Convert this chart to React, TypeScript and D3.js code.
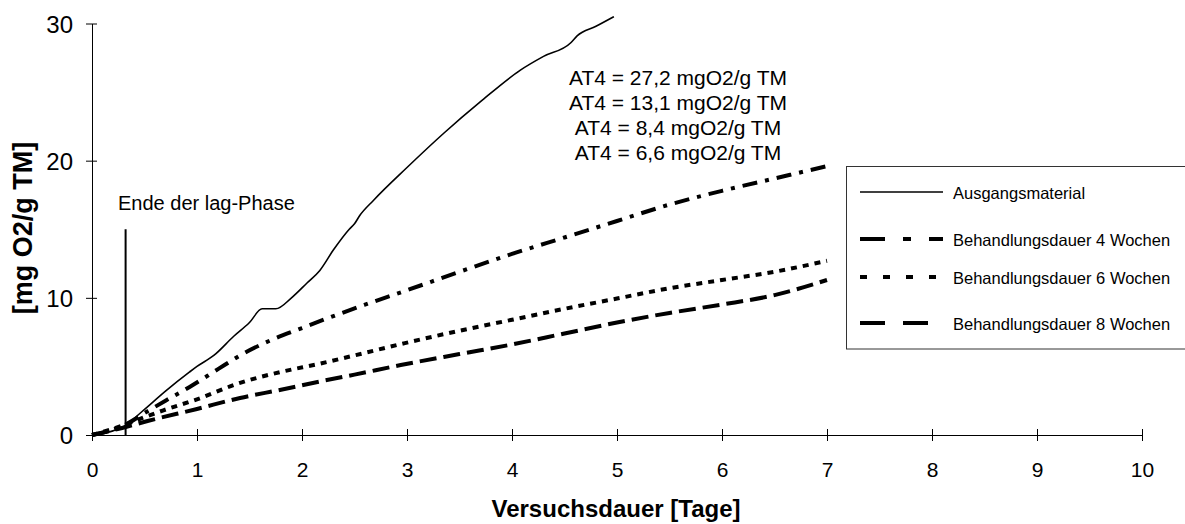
import React, { useEffect, useRef } from 'react';
import * as d3 from 'd3';

// Versuchsdauer [Tage] / Sauerstoffverbrauch [mg O2/g TM]
const ausgangX = [0, 0.1, 0.2, 0.3, 0.33, 0.4, 0.52, 0.7, 0.93, 1.0, 1.16, 1.35, 1.5, 1.62, 1.75, 1.9, 2.05, 2.17, 2.3, 2.45, 2.5, 2.55, 2.68, 3.0, 3.35, 3.7, 4.08, 4.3, 4.56, 4.62, 4.8, 4.97];
const ausgangY = [0, 0.1, 0.3, 0.6, 0.75, 1.2, 2.0, 3.2, 4.6, 5.0, 5.8, 7.2, 8.2, 9.2, 9.2, 10.0, 11.1, 12.0, 13.5, 15.0, 15.4, 16.0, 17.1, 19.5, 22.0, 24.3, 26.6, 27.6, 28.6, 29.1, 29.8, 30.5];

const w4X = [0, 0.33, 0.5, 0.7, 0.93, 1.2, 1.41, 1.7, 2.0, 2.24, 2.6, 2.98, 3.5, 4.0, 4.5, 5.0, 5.5, 6.0, 6.5, 7.0];
const w4Y = [0, 0.8, 1.6, 2.5, 3.5, 4.8, 5.8, 6.9, 7.8, 8.5, 9.5, 10.5, 11.9, 13.2, 14.4, 15.6, 16.8, 17.8, 18.7, 19.6];

const w6X = [0, 0.33, 0.5, 0.68, 1.0, 1.41, 1.8, 2.17, 2.5, 2.98, 3.5, 4.0, 4.5, 5.0, 5.5, 6.0, 6.5, 7.0];
const w6Y = [0, 0.8, 1.3, 1.8, 2.6, 3.8, 4.6, 5.2, 5.8, 6.7, 7.6, 8.4, 9.2, 9.95, 10.7, 11.3, 11.9, 12.7];

const w8X = [0, 0.33, 0.52, 1.0, 1.41, 1.8, 2.17, 2.5, 2.94, 3.5, 4.0, 4.5, 5.0, 5.5, 5.99, 6.5, 7.0];
const w8Y = [0, 0.6, 1.0, 1.9, 2.7, 3.3, 3.9, 4.4, 5.1, 5.9, 6.6, 7.4, 8.2, 8.9, 9.5, 10.2, 11.3];

const seriesNames = ['Ausgangsmaterial', 'Behandlungsdauer 4 Wochen', 'Behandlungsdauer 6 Wochen', 'Behandlungsdauer 8 Wochen'];
const at4Labels = ['AT4 = 27,2 mgO2/g TM', 'AT4 = 13,1 mgO2/g TM', 'AT4 = 8,4 mgO2/g TM', 'AT4 = 6,6 mgO2/g TM'];
const xTicks = [0, 1, 2, 3, 4, 5, 6, 7, 8, 9, 10];
const yTicks = [0, 10, 20, 30];
const lagX = 0.32;
const lagTop = 15;

const FONT = '"Liberation Sans", Arial, sans-serif';

export default function App() {
  const ref = useRef<SVGSVGElement>(null);

  useEffect(() => {
    const svg = d3.select(ref.current);
    svg.selectAll('*').remove();

    const x = d3.scaleLinear().domain([0, 10]).range([92, 1142]);
    const y = d3.scaleLinear().domain([0, 30]).range([435, 23.5]);

    // axes
    const gy = svg.append('g').attr('transform', `translate(${x(0)},0)`)
      .call(d3.axisLeft(y).tickValues(yTicks).tickSize(6).tickSizeOuter(0).tickFormat(d3.format('d')));
    gy.select('.domain').attr('stroke', '#000');
    gy.selectAll('.tick line').attr('x1', 5).attr('stroke', '#000');
    gy.selectAll('.tick text').attr('x', -19).attr('dy', '0.36em')
      .style('font-family', FONT).style('font-size', '24px').attr('fill', '#000');

    const gx = svg.append('g').attr('transform', `translate(0,${y(0)})`)
      .call(d3.axisBottom(x).tickValues(xTicks).tickSize(6).tickSizeOuter(0).tickFormat(d3.format('d')));
    gx.select('.domain').attr('stroke', '#000');
    gx.selectAll('.tick line').attr('y1', -6).attr('stroke', '#000');
    gx.selectAll('.tick text').attr('y', 42).attr('dy', 0)
      .style('font-family', FONT).style('font-size', '21px').attr('fill', '#000');

    // lag-phase marker
    svg.append('line')
      .attr('x1', x(lagX)).attr('x2', x(lagX))
      .attr('y1', y(0)).attr('y2', y(lagTop))
      .attr('stroke', '#000').attr('stroke-width', 2);
    svg.append('text').attr('x', 118).attr('y', 210)
      .style('font-family', FONT).style('font-size', '20px')
      .text('Ende der lag-Phase');

    const line = d3.line<[number, number]>().x((d) => x(d[0])).y((d) => y(d[1])).curve(d3.curveMonotoneX);
    const series = [
      { xs: ausgangX, ys: ausgangY, width: 1.6, dash: null, legendDash: null },
      { xs: w4X, ys: w4Y, width: 4, dash: '15 8 4 8', legendDash: '25 18 8 18' },
      { xs: w6X, ys: w6Y, width: 4, dash: '6 6', legendDash: '7 16' },
      { xs: w8X, ys: w8Y, width: 4, dash: '17 7', legendDash: '25 18' },
    ];

    series.forEach((s) => {
      const pts = s.xs.map((v, i) => [v, s.ys[i]] as [number, number]);
      svg.append('path')
        .attr('d', line(pts))
        .attr('fill', 'none')
        .attr('stroke', '#000')
        .attr('stroke-width', s.width)
        .attr('stroke-dasharray', s.dash);
    });

    // AT4 annotation
    at4Labels.forEach((t, i) => {
      svg.append('text').attr('x', 678).attr('y', 85 + i * 25)
        .attr('text-anchor', 'middle')
        .style('font-family', FONT).style('font-size', '21px')
        .text(t);
    });

    // legend
    svg.append('rect').attr('x', 846.5).attr('y', 166.5).attr('width', 400).attr('height', 182.5)
      .attr('fill', '#fff').attr('stroke', '#333').attr('stroke-width', 1);
    const rowY = [192, 239, 277, 323];
    series.forEach((s, i) => {
      svg.append('line').attr('x1', 860).attr('x2', 943).attr('y1', rowY[i]).attr('y2', rowY[i])
        .attr('stroke', '#000').attr('stroke-width', i === 0 ? 1.6 : 4)
        .attr('stroke-dasharray', s.legendDash);
      svg.append('text').attr('x', 953).attr('y', rowY[i] + 7)
        .style('font-family', FONT).style('font-size', '16.5px')
        .text(seriesNames[i]);
    });

    // axis titles
    svg.append('text').attr('x', 616).attr('y', 517).attr('text-anchor', 'middle')
      .style('font-family', FONT).style('font-size', '24px').style('font-weight', 'bold')
      .text('Versuchsdauer [Tage]');
    svg.append('text').attr('transform', 'translate(32,228) rotate(-90)').attr('text-anchor', 'middle')
      .style('font-family', FONT).style('font-size', '27px').style('font-weight', 'bold')
      .text('[mg O2/g TM]');
  }, []);

  return (
    <svg ref={ref} width={1185} height={524}
      style={{ position: 'absolute', left: 0, top: 0, background: '#fff' }} />
  );
}
